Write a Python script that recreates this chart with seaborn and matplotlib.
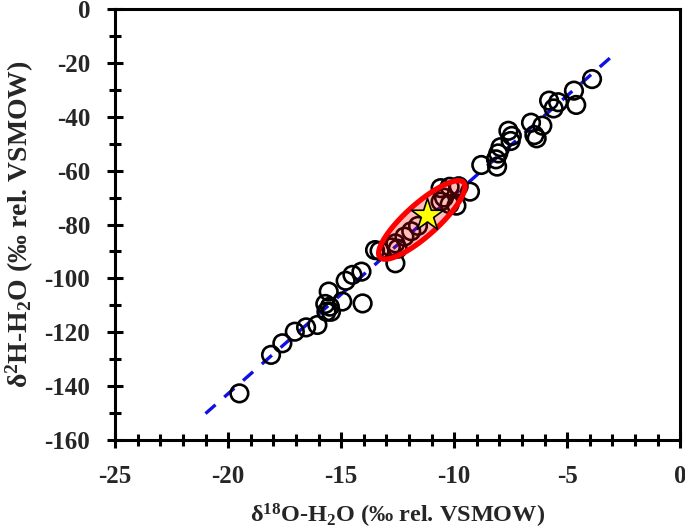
import numpy as np
import pandas as pd
import matplotlib
matplotlib.use("Agg")
import matplotlib.pyplot as plt
from matplotlib.ticker import MultipleLocator
import seaborn as sns

# ---- data ----
d18O = [-3.9, -4.7, -4.6, -5.8, -5.4, -5.6, -6.6, -6.1, -6.45, -6.35,
        -7.6, -7.45, -7.5, -7.95, -8.05, -8.15, -8.8, -8.1,
        -9.3, -10.6, -10.2, -9.8, -10.45, -10.6, -10.2, -9.9,
        -11.6, -11.9, -12.2, -12.6, -12.8, -12.5,
        -13.5, -13.3, -12.6,
        -14.1, -14.5, -14.8, -15.55, -15.7, -15.5, -15.45, -15.65, -14.95, -14.05,
        -16.05, -16.55, -17.05, -17.6, -18.1, -19.5]
d2H = [-26.0, -30.3, -35.6, -34.0, -34.6, -36.9, -42.2, -43.3, -46.8, -48.0,
       -45.2, -47.1, -49.0, -51.3, -53.6, -55.8, -57.9, -58.5,
       -67.8, -66.5, -66.0, -65.8, -70.0, -71.5, -72.5, -73.0,
       -80.5, -82.5, -84.5, -87.0, -88.5, -89.0,
       -89.5, -89.8, -94.4,
       -97.5, -98.7, -100.9, -104.9, -109.5, -110.5, -112.4, -112.4, -108.6, -109.3,
       -117.3, -118.2, -119.8, -124.1, -128.4, -142.7]

line_x = [-21.0, -3.0]
line_y = [-150.2, -17.4]

star_x = [-11.2]
star_y = [-76.5]

ellipse_center = (-11.43, -78.3)
ellipse_major = (1.85, 13.9)   # half-axis vector (data units)
ellipse_minor = (0.48, -4.4)   # half-axis vector (data units)

xticks = [-25, -20, -15, -10, -5, 0]
yticks = [0, -20, -40, -60, -80, -100, -120, -140, -160]

# ---- style ----
sns.set_theme(style="white")
plt.rcParams['font.family'] = ['Liberation Serif', 'DejaVu Serif']
plt.rcParams['font.weight'] = 'bold'
plt.rcParams['axes.unicode_minus'] = False
plt.rcParams['mathtext.fontset'] = 'custom'
plt.rcParams['mathtext.rm'] = 'Liberation Serif:bold'
plt.rcParams['mathtext.bf'] = 'Liberation Serif:bold'
plt.rcParams['mathtext.it'] = 'Liberation Serif:bold'

fig = plt.figure(figsize=(6.85, 5.32), dpi=100)
ax = fig.add_axes([0.168, 0.173, 0.825, 0.81])

df = pd.DataFrame({"x": d18O, "y": d2H})
sns.scatterplot(data=df, x="x", y="y", ax=ax, marker="o", s=160,
                facecolor="none", edgecolor="black", linewidth=1.9, zorder=3)

sns.lineplot(x=line_x, y=line_y, ax=ax, color="#1010e0", linewidth=2.4,
             linestyle=(0, (4, 3.5)), zorder=2)

t = np.linspace(0, 2 * np.pi, 200)
ex = ellipse_center[0] + ellipse_major[0] * np.cos(t) + ellipse_minor[0] * np.sin(t)
ey = ellipse_center[1] + ellipse_major[1] * np.cos(t) + ellipse_minor[1] * np.sin(t)
ax.fill(ex, ey, facecolor=(1, 0, 0, 0.25), edgecolor="red", linewidth=3.8, zorder=4)

sns.scatterplot(x=star_x, y=star_y, ax=ax, marker="*", s=600, color="yellow",
                edgecolor="black", linewidth=1.2, zorder=5)

ax.set_xlim(-25, 0)
ax.set_ylim(-160, 0)
ax.set_xticks(xticks)
ax.set_yticks(yticks)
ax.xaxis.set_minor_locator(MultipleLocator(1))
ax.yaxis.set_minor_locator(MultipleLocator(10))
ax.tick_params(axis="both", which="major", direction="inout", length=12, width=2.2,
               color="black", labelsize=18, bottom=True, left=True, top=False, right=False)
ax.tick_params(axis="both", which="minor", direction="inout", length=8, width=2.2,
               color="black", bottom=True, left=True, top=False, right=False)
ax.tick_params(axis="x", which="major", pad=12)
ax.tick_params(axis="y", which="major", pad=12)
for lab in ax.get_xticklabels() + ax.get_yticklabels():
    lab.set_fontweight("bold")
for sp in ax.spines.values():
    sp.set_linewidth(2.2)
    sp.set_color("black")

ax.set_xlabel(r"δ$^{18}$O-H$_{2}$O (‰ rel. VSMOW)", fontsize=17.5, fontweight="bold", labelpad=10)
ax.set_ylabel(r"δ$^{2}$H-H$_{2}$O (‰ rel. VSMOW)", fontsize=20, fontweight="bold", labelpad=6)

fig.savefig("out.png", dpi=100)
